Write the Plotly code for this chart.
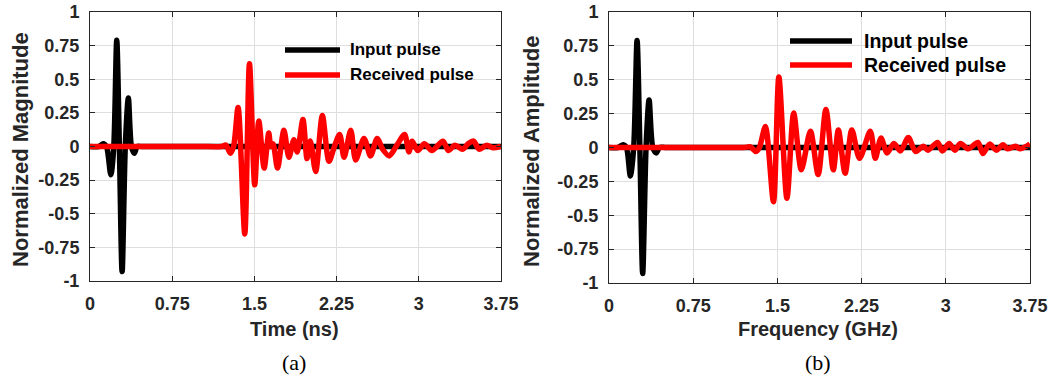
import plotly.graph_objects as go

W, H = 1054, 377

# ---------------- data ----------------
# (a) time domain
t_in_a = [0, 0.08, 0.12, 0.15, 0.19, 0.217, 0.244, 0.268, 0.293, 0.322, 0.35, 0.378, 0.405, 0.43,
          0.47, 0.55, 0.7, 1.0, 1.5, 2.0, 2.5, 3.0, 3.5, 3.75]
v_in_a = [0, 0, 0.02, 0, -0.21, 0.0, 0.79, 0.0, -0.93, 0.0, 0.36, 0.0, -0.05, 0.0,
          0, 0, 0, 0, 0, 0, 0, 0, 0, 0]

t_rx_a = [0, 0.5, 1.0, 1.20, 1.24, 1.28, 1.31, 1.351, 1.412, 1.455, 1.503, 1.54, 1.589, 1.631, 1.65, 1.67,
          1.711, 1.769, 1.815, 1.86, 1.891, 1.943, 1.98, 2.01, 2.059, 2.12, 2.18, 2.23, 2.278,
          2.318, 2.379, 2.424, 2.50, 2.56, 2.62, 2.67, 2.73, 2.80, 2.87, 2.91, 2.94, 2.99, 3.05,
          3.12, 3.22, 3.27, 3.33, 3.40, 3.45, 3.50, 3.55, 3.62, 3.68, 3.75]
v_rx_a = [0, 0, 0, 0, 0.01, -0.05, 0.0, 0.29, -0.65, 0.615, -0.285, 0.19, -0.16, 0.10, 0.0, 0.02,
          -0.16, 0.12, -0.08, 0.05, -0.04, 0.20, -0.09, 0.04, -0.185, 0.23, -0.11, 0.0, 0.09,
          -0.08, 0.12, -0.10, 0.06, -0.07, 0.06, -0.02, -0.07, 0.01, 0.09, -0.04, 0.04, -0.03, 0.02,
          -0.03, 0.04, -0.03, 0.01, -0.02, 0.02, 0.04, -0.02, 0.01, -0.01, 0]

# (b) frequency domain
f_in_b = [0, 0.08, 0.126, 0.155, 0.19, 0.22, 0.25, 0.275, 0.30, 0.33, 0.357, 0.39, 0.42, 0.45,
          0.5, 0.6, 0.75, 1.0, 1.5, 2.0, 2.5, 3.0, 3.5, 3.75]
v_in_b = [0, 0, 0.02, 0, -0.21, 0, 0.79, 0, -0.93, 0, 0.35, 0, -0.04, 0,
          0, 0, 0, 0, 0, 0, 0, 0, 0, 0]

f_rx_b = [0, 0.5, 1.0, 1.20, 1.26, 1.309, 1.34, 1.393, 1.465, 1.513, 1.585, 1.645, 1.713, 1.794, 1.863,
          1.932, 1.998, 2.043, 2.103, 2.163, 2.232, 2.327, 2.372, 2.423, 2.477, 2.537, 2.597,
          2.666, 2.731, 2.80, 2.84, 2.926, 2.97, 3.03, 3.08, 3.13, 3.20, 3.286, 3.33, 3.39,
          3.45, 3.51, 3.55, 3.62, 3.66, 3.75]
v_rx_b = [0, 0, 0, 0, 0.005, -0.03, 0.0, 0.155, -0.40, 0.52, -0.375, 0.254, -0.165, 0.12, -0.20,
          0.28, -0.165, 0.13, -0.19, 0.13, -0.08, 0.12, -0.08, 0.07, -0.04, 0.03, -0.025,
          0.074, -0.03, 0.01, -0.02, 0.037, -0.025, 0.03, -0.02, 0.03, -0.01, 0.037, -0.045, 0.025,
          -0.02, 0.02, -0.01, 0.01, -0.01, 0.025]

x_ticks = [0, 0.75, 1.5, 2.25, 3, 3.75]
x_ticktext = ["0", "0.75", "1.5", "2.25", "3", "3.75"]
y_ticks = [-1, -0.75, -0.5, -0.25, 0, 0.25, 0.5, 0.75, 1]
y_ticktext = ["-1", "-0.75", "-0.5", "-0.25", "0", "0.25", "0.5", "0.75", "1"]

legend_names = ["Input pulse", "Received pulse"]
ylabels = ["Normalized Magnitude", "Normalized Amplitude"]
xlabels = ["Time (ns)", "Frequency (GHz)"]
panel_tags = ["(a)", "(b)"]

# ---------------- figure ----------------
BLACK = "#000000"
RED = "#ff0000"
AX = "#262626"
FONT = "Liberation Sans, Arial, sans-serif"
LW = 5.5

fig = go.Figure()
for xs, ys, col, xa, ya, nm in [
    (t_in_a, v_in_a, BLACK, "x", "y", legend_names[0]),
    (t_rx_a, v_rx_a, RED, "x", "y", legend_names[1]),
    (f_in_b, v_in_b, BLACK, "x2", "y2", legend_names[0]),
    (f_rx_b, v_rx_b, RED, "x2", "y2", legend_names[1]),
]:
    fig.add_trace(go.Scatter(x=xs, y=ys, mode="lines",
                             line=dict(color=col, width=LW, shape="spline", smoothing=0.8),
                             xaxis=xa, yaxis=ya, name=nm, showlegend=False, cliponaxis=True))


def px(x):
    return x / W


def py(y):
    return 1 - y / H


def xaxis(domain, anchor):
    return dict(domain=domain, anchor=anchor, range=[0, 3.75], tickvals=x_ticks, ticktext=x_ticktext,
                showgrid=True, gridcolor="#dedede", gridwidth=1, zeroline=False, automargin=False,
                showline=True, linecolor=AX, linewidth=1, mirror="ticks",
                ticks="inside", ticklen=5, tickcolor=AX, ticklabelstandoff=6,
                tickfont=dict(family=FONT, size=18, color=AX, weight="bold"))


def yaxis(domain, anchor):
    return dict(domain=domain, anchor=anchor, range=[-1, 1], tickvals=y_ticks, ticktext=y_ticktext,
                showgrid=True, gridcolor="#dedede", gridwidth=1, zeroline=False, automargin=False,
                showline=True, linecolor=AX, linewidth=1, mirror="ticks",
                ticks="inside", ticklen=5, tickcolor=AX, ticklabelstandoff=6,
                tickfont=dict(family=FONT, size=18, color=AX, weight="bold"))


fig.update_layout(
    width=W, height=H, margin=dict(l=0, r=0, t=0, b=0, autoexpand=False),
    paper_bgcolor="white", plot_bgcolor="white", showlegend=False,
    xaxis=xaxis([px(90), px(501)], "y"),
    yaxis=yaxis([py(281), py(12)], "x"),
    xaxis2=xaxis([px(609), px(1030)], "y2"),
    yaxis2=yaxis([py(283), py(12)], "x2"),
)

shapes = []
annotations = []

# manual legends
legend_specs = [
    dict(box=(277, 31, 497, 88), lx=(285, 340), tx=348, ys=(50, 75), fs=17),
    dict(box=(780, 26, 1027, 86), lx=(790, 852), tx=862, ys=(41, 65), fs=19.5),
]
for spec in legend_specs:
    bx0, by0, bx1, by1 = spec["box"]
    shapes.append(dict(type="rect", xref="paper", yref="paper", x0=px(bx0), x1=px(bx1),
                       y0=py(by1), y1=py(by0), fillcolor="white", line=dict(width=0), layer="below"))
    for name, col, yy in zip(legend_names, [BLACK, RED], spec["ys"]):
        shapes.append(dict(type="line", xref="paper", yref="paper", x0=px(spec["lx"][0]),
                           x1=px(spec["lx"][1]), y0=py(yy), y1=py(yy),
                           line=dict(color=col, width=LW), layer="above"))
        annotations.append(dict(text=name, xref="paper", yref="paper", x=px(spec["tx"]), y=py(yy),
                                xanchor="left", yanchor="middle", showarrow=False,
                                font=dict(family=FONT, size=spec["fs"], color=BLACK, weight="bold")))

# axis titles and panel tags
for lab, cx, cy in zip(ylabels, [20, 531], [150, 152]):
    annotations.append(dict(text=lab, xref="paper", yref="paper", x=px(cx), y=py(cy),
                            xanchor="center", yanchor="middle", textangle=-90, showarrow=False,
                            font=dict(family=FONT, size=22, color=AX, weight="bold")))
for lab, cx in zip(xlabels, [294, 818]):
    annotations.append(dict(text=lab, xref="paper", yref="paper", x=px(cx), y=py(329),
                            xanchor="center", yanchor="middle", showarrow=False,
                            font=dict(family=FONT, size=20, color=AX, weight="bold")))
for lab, cx in zip(panel_tags, [294, 818]):
    annotations.append(dict(text=lab, xref="paper", yref="paper", x=px(cx), y=py(362),
                            xanchor="center", yanchor="middle", showarrow=False,
                            font=dict(family="Liberation Serif, Times New Roman, serif", size=22,
                                      color=BLACK)))

fig.update_layout(shapes=shapes, annotations=annotations)
fig.write_html("out.html", config={"displayModeBar": False},
               post_script="document.body.style.margin='0';document.body.style.overflow='hidden';")
